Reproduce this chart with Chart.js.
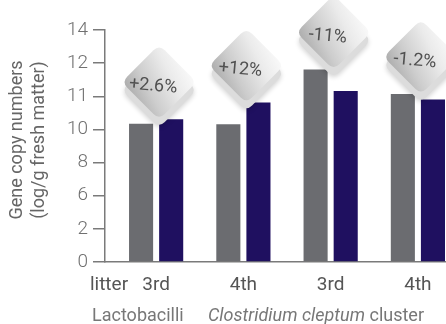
<!DOCTYPE html>
<html>
<head>
<meta charset="utf-8">
<script src="https://cdn.jsdelivr.net/npm/chart.js@4/dist/chart.umd.min.js"></script>
<style>
  html, body { margin: 0; padding: 0; background: #ffffff; }
  #wrap { width: 446px; height: 324px; }
</style>
</head>
<body>
<div id="wrap"><canvas id="c" width="446" height="324"></canvas></div>
<script>
// ---- data ----
const xTickLabels = ['3rd', '4th', '3rd', '4th'];
const yTickLabels = [0, 2, 6, 8, 10, 11, 12, 14];
const litterValues = [10.17, 10.16, 11.81, 11.07];   // grey bars
const dietValues   = [10.31, 10.81, 11.16, 10.90];   // navy bars
const changeLabels = ['+2.6%', '+12%', '-11%', '-1.2%'];
const rowLabel = 'litter';
const groupTitles = ['Lactobacilli', 'Clostridium cleptum', ' cluster'];
const yTitle = ['Gene copy numbers', '(log/g fresh matter)'];

// map a real value onto the evenly spaced (non-linear) tick axis
function toAxis(v) {
  for (let i = 0; i < yTickLabels.length - 1; i++) {
    const a = yTickLabels[i], b = yTickLabels[i + 1];
    if (v >= a && v <= b) return i + (v - a) / (b - a);
  }
  return yTickLabels.length - 1;
}

const FONT = 'Roboto, "Liberation Sans", sans-serif';

function roundRectPath(ctx, x, y, w, h, r) {
  ctx.beginPath();
  ctx.moveTo(x + r, y);
  ctx.lineTo(x + w - r, y);
  ctx.quadraticCurveTo(x + w, y, x + w, y + r);
  ctx.lineTo(x + w, y + h - r);
  ctx.quadraticCurveTo(x + w, y + h, x + w - r, y + h);
  ctx.lineTo(x + r, y + h);
  ctx.quadraticCurveTo(x, y + h, x, y + h - r);
  ctx.lineTo(x, y + r);
  ctx.quadraticCurveTo(x, y, x + r, y);
  ctx.closePath();
}

function drawBadge(ctx, cx, cy, text) {
  const s = 53, r = 8;
  ctx.save();
  ctx.translate(cx, cy);
  // lower plate / shadow
  ctx.save();
  ctx.translate(0, 8);
  ctx.rotate(Math.PI / 4);
  ctx.shadowColor = 'rgba(0,0,0,0.18)';
  ctx.shadowBlur = 5;
  ctx.shadowOffsetY = 2;
  roundRectPath(ctx, -s / 2, -s / 2, s, s, r);
  ctx.fillStyle = '#dcdcdc';
  ctx.fill();
  ctx.restore();
  // face
  ctx.save();
  ctx.rotate(Math.PI / 4);
  roundRectPath(ctx, -s / 2, -s / 2, s, s, r);
  ctx.restore();
  const g = ctx.createLinearGradient(-37, 12, 29, -21);
  g.addColorStop(0, '#a3a3a3');
  g.addColorStop(0.35, '#cdcdcd');
  g.addColorStop(0.7, '#ebebeb');
  g.addColorStop(1, '#fbfbfb');
  ctx.fillStyle = g;
  ctx.fill();
  // label
  ctx.translate(-6, 4);
  ctx.rotate(5 * Math.PI / 180);
  ctx.fillStyle = '#505050';
  ctx.font = '18px ' + FONT;
  ctx.textAlign = 'center';
  ctx.textBaseline = 'middle';
  ctx.fillText(text, 0, 0);
  ctx.restore();
}

const extras = {
  id: 'extras',
  afterDatasetsDraw(chart) {
    const ctx = chart.ctx;
    const m0 = chart.getDatasetMeta(0).data;
    const m1 = chart.getDatasetMeta(1).data;
    for (let i = 0; i < changeLabels.length; i++) {
      const cx = (m0[i].x + m1[i].x) / 2 + 3;
      const top = Math.min(m0[i].y, m1[i].y);
      drawBadge(ctx, cx, top - 37, changeLabels[i]);
    }
  },
  afterDraw(chart) {
    const ctx = chart.ctx;
    const xs = chart.scales.x;
    const ys = chart.scales.y;
    ctx.save();
    // y title (two lines, rotated)
    ctx.fillStyle = '#666666';
    ctx.font = '18px ' + FONT;
    ctx.textAlign = 'center';
    ctx.textBaseline = 'middle';
    const midY = (ys.top + ys.bottom) / 2 - 6;
    yTitle.forEach((t, i) => {
      ctx.save();
      ctx.translate(17 + i * 22.5, midY);
      ctx.rotate(-Math.PI / 2);
      ctx.fillText(t, 0, 0);
      ctx.restore();
    });
    ctx.textBaseline = 'alphabetic';
    // row label
    ctx.fillStyle = '#555555';
    ctx.font = '19px ' + FONT;
    ctx.textAlign = 'center';
    ctx.fillText(rowLabel, xs.left + 4, 290);
    // group titles
    ctx.fillStyle = '#777777';
    ctx.textAlign = 'left';
    ctx.font = '18px ' + FONT;
    ctx.fillText(groupTitles[0], xs.left - 13, 321);
    let x = xs.left + 103;
    ctx.font = 'italic 18px ' + FONT;
    ctx.fillText(groupTitles[1], x, 321);
    x += ctx.measureText(groupTitles[1]).width;
    ctx.font = '18px ' + FONT;
    ctx.fillText(groupTitles[2], x, 321);
    ctx.restore();
  }
};

new Chart(document.getElementById('c'), {
  type: 'bar',
  data: {
    datasets: [
      {
        data: litterValues.map((v, i) => ({ x: i + 1, y: toAxis(v) })),
        backgroundColor: '#6b6c70',
        borderWidth: 0,
        categoryPercentage: 0.69,
        barPercentage: 0.8
      },
      {
        data: dietValues.map((v, i) => ({ x: i + 1, y: toAxis(v) })),
        backgroundColor: '#1f1060',
        borderWidth: 0,
        categoryPercentage: 0.69,
        barPercentage: 0.8
      }
    ]
  },
  options: {
    responsive: false,
    devicePixelRatio: 1,
    animation: false,
    layout: { padding: { top: 30, right: 0, bottom: 0, left: 0 } },
    plugins: { legend: { display: false }, tooltip: { enabled: false } },
    scales: {
      x: {
        type: 'linear',
        position: 'bottom',
        offset: false,
        min: 0.414,
        max: 4.322,
        afterBuildTicks: (s) => { s.ticks = xTickLabels.map((_, i) => ({ value: i + 1 })); },
        afterFit: (s) => { s.height = 62; },
        grid: { display: false, offset: false },
        border: { display: true, color: '#7a7a7a', width: 1.5 },
        ticks: {
          autoSkip: false,
          maxRotation: 0,
          minRotation: 0,
          padding: 4,
          color: '#555555',
          font: { family: FONT, size: 19 },
          callback: (v, i) => xTickLabels[i]
        }
      },
      y: {
        type: 'linear',
        position: 'left',
        min: 0,
        max: yTickLabels.length - 1,
        afterFit: (s) => { s.width = 105; },
        grid: { drawOnChartArea: false, drawTicks: true, tickLength: 12, color: '#7a7a7a', lineWidth: 1.5 },
        border: { display: true, color: '#7a7a7a', width: 1.5 },
        ticks: {
          stepSize: 1,
          padding: 5,
          color: '#707070',
          font: { family: FONT, size: 19, weight: '300' },
          callback: (v) => yTickLabels[v]
        }
      }
    }
  },
  plugins: [extras]
});
</script>
</body>
</html>
